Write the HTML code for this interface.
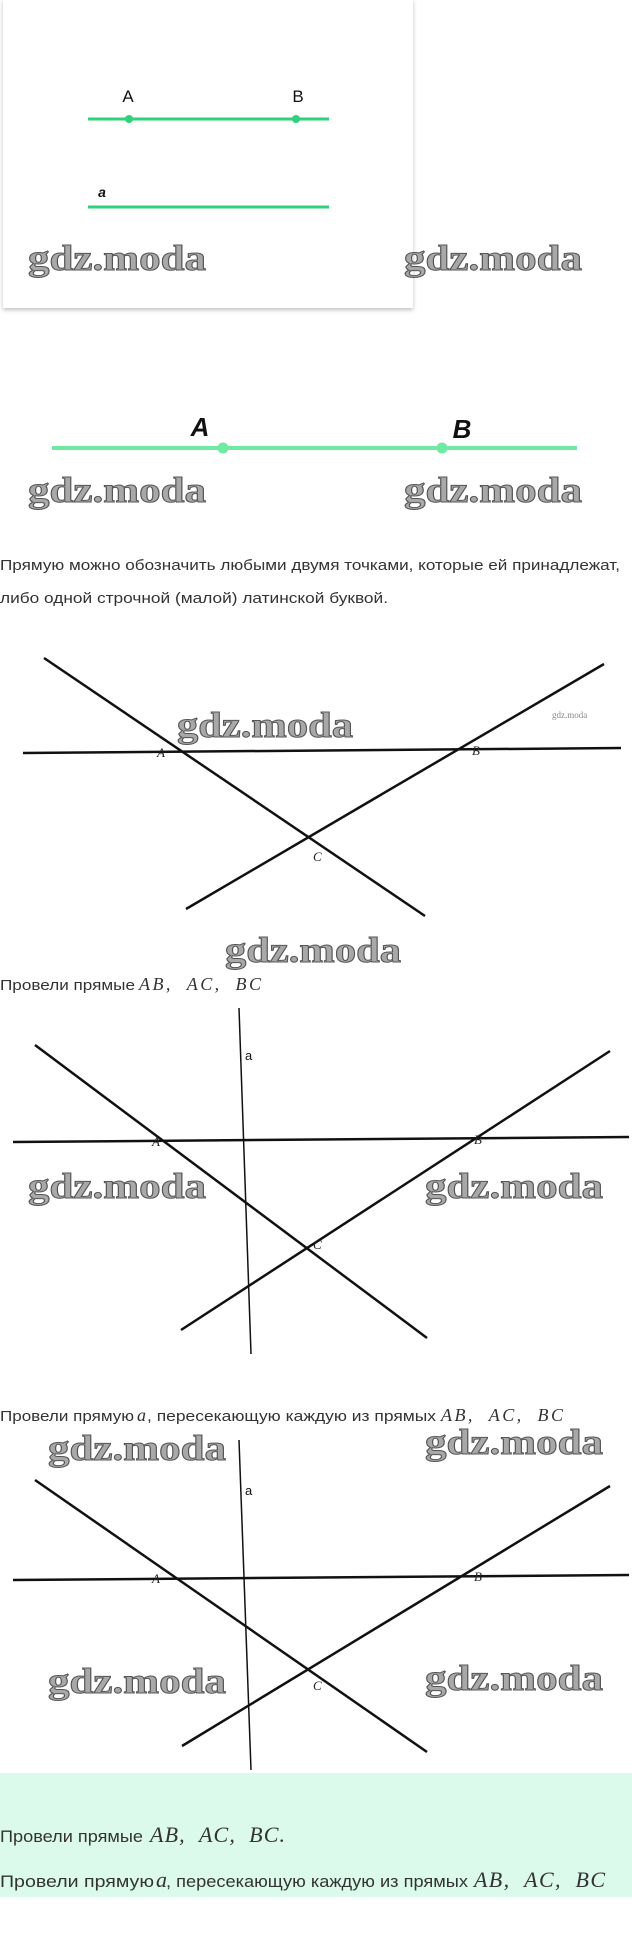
<!DOCTYPE html>
<html><head><meta charset="utf-8"><style>
html,body{margin:0;padding:0;background:#fff;}
svg{display:block;}
.wm{font-family:"Liberation Serif",serif;font-weight:bold;font-size:36px;fill:#a8a8a8;stroke:#555;stroke-width:1;}
.t{font-family:"Liberation Sans",sans-serif;fill:#333;}
.m{font-family:"Liberation Serif",serif;font-style:italic;fill:#333;}
.lb{font-family:"Liberation Serif",serif;font-style:italic;font-size:13px;fill:#222;}
</style></head><body>
<svg width="632" height="1937" viewBox="0 0 632 1937" xmlns="http://www.w3.org/2000/svg">
<defs><filter id="sh" x="-5%" y="-5%" width="110%" height="110%"><feDropShadow dx="0" dy="2" stdDeviation="2" flood-color="#000" flood-opacity="0.25"/></filter></defs>
<rect x="3" y="0" width="410" height="308" fill="#fff" filter="url(#sh)"/>
<line x1="88" y1="119" x2="329" y2="119" stroke="#2ed27a" stroke-width="3"/>
<circle cx="129" cy="119" r="4" fill="#2ed27a"/><circle cx="296" cy="119" r="4" fill="#2ed27a"/>
<text x="128" y="102" font-family="Liberation Sans,sans-serif" font-size="17" text-anchor="middle" fill="#111">A</text>
<text x="298" y="102" font-family="Liberation Sans,sans-serif" font-size="17" text-anchor="middle" fill="#111">B</text>
<line x1="88" y1="207" x2="329" y2="207" stroke="#2ed27a" stroke-width="3"/>
<text x="102" y="197" font-family="Liberation Sans,sans-serif" font-style="italic" font-weight="bold" font-size="14" text-anchor="middle" fill="#111">a</text>
<text class="wm" x="28" y="270" textLength="178" lengthAdjust="spacingAndGlyphs">gdz.moda</text>
<text class="wm" x="404" y="270" textLength="178" lengthAdjust="spacingAndGlyphs">gdz.moda</text>
<line x1="52" y1="448" x2="577" y2="448" stroke="#6eeaa2" stroke-width="4"/>
<circle cx="223" cy="448" r="5.5" fill="#6eeaa2"/><circle cx="442" cy="448" r="5.5" fill="#6eeaa2"/>
<text x="200" y="436" font-family="Liberation Sans,sans-serif" font-style="italic" font-weight="bold" font-size="26" text-anchor="middle" fill="#111">A</text>
<text x="462" y="438" font-family="Liberation Sans,sans-serif" font-style="italic" font-weight="bold" font-size="26" text-anchor="middle" fill="#111">B</text>
<text class="wm" x="28" y="502" textLength="178" lengthAdjust="spacingAndGlyphs">gdz.moda</text>
<text class="wm" x="404" y="502" textLength="178" lengthAdjust="spacingAndGlyphs">gdz.moda</text>
<text class="t" x="0" y="570" font-size="14.5" textLength="620" lengthAdjust="spacingAndGlyphs">Прямую можно обозначить любыми двумя точками, которые ей принадлежат,</text>
<text class="t" x="0" y="603" font-size="14.5" textLength="388" lengthAdjust="spacingAndGlyphs">либо одной строчной (малой) латинской буквой.</text>
<g stroke="#111" stroke-width="2.5">
<line x1="44" y1="658" x2="425" y2="916"/>
<line x1="186" y1="909" x2="604" y2="664"/>
<line x1="23" y1="753" x2="621" y2="748"/>
</g>
<text class="lb" x="157" y="757">A</text><text class="lb" x="472" y="755">B</text><text class="lb" x="313" y="861">C</text>
<text class="wm" x="177" y="737" textLength="176" lengthAdjust="spacingAndGlyphs">gdz.moda</text>
<text x="552" y="718" font-family="Liberation Serif,serif" font-size="9" fill="#888">gdz.moda</text>
<text class="wm" x="225" y="962" textLength="176" lengthAdjust="spacingAndGlyphs">gdz.moda</text>
<text class="t" x="0" y="990" font-size="14.5" textLength="135" lengthAdjust="spacingAndGlyphs">Провели прямые</text>
<text class="m" x="139" y="990" font-size="18" fill="#555" textLength="122" lengthAdjust="spacing">AB,&#160;&#160;AC,&#160;&#160;BC</text>
<g stroke="#111" stroke-width="2.5">
<line x1="35" y1="1045" x2="427" y2="1338"/>
<line x1="181" y1="1330" x2="610" y2="1051"/>
<line x1="13" y1="1142" x2="629" y2="1137"/>
</g>
<line x1="239" y1="1008" x2="251" y2="1354" stroke="#111" stroke-width="1.5"/>
<text x="245" y="1060" font-family="Liberation Sans,sans-serif" font-size="13" fill="#111">a</text>
<text class="lb" x="152" y="1146">A</text><text class="lb" x="474" y="1144">B</text><text class="lb" x="313" y="1249">C</text>
<text class="wm" x="28" y="1198" textLength="178" lengthAdjust="spacingAndGlyphs">gdz.moda</text>
<text class="wm" x="425" y="1198" textLength="178" lengthAdjust="spacingAndGlyphs">gdz.moda</text>
<text class="t" x="0" y="1421" font-size="14.5" textLength="134" lengthAdjust="spacingAndGlyphs">Провели прямую</text>
<text class="m" x="137" y="1421" font-size="18" fill="#555">a</text>
<text class="t" x="147" y="1421" font-size="14.5" textLength="289" lengthAdjust="spacingAndGlyphs">, пересекающую каждую из прямых</text>
<text class="m" x="441" y="1421" font-size="18" fill="#555" textLength="122" lengthAdjust="spacing">AB,&#160;&#160;AC,&#160;&#160;BC</text>
<text class="wm" x="48" y="1460" textLength="178" lengthAdjust="spacingAndGlyphs">gdz.moda</text>
<text class="wm" x="425" y="1454" textLength="178" lengthAdjust="spacingAndGlyphs">gdz.moda</text>
<g stroke="#111" stroke-width="2.5">
<line x1="35" y1="1480" x2="427" y2="1752"/>
<line x1="182" y1="1746" x2="610" y2="1486"/>
<line x1="13" y1="1580" x2="629" y2="1575"/>
</g>
<line x1="239" y1="1440" x2="251" y2="1770" stroke="#111" stroke-width="1.5"/>
<text x="245" y="1495" font-family="Liberation Sans,sans-serif" font-size="13" fill="#111">a</text>
<text class="lb" x="152" y="1583">A</text><text class="lb" x="474" y="1581">B</text><text class="lb" x="313" y="1690">C</text>
<text class="wm" x="48" y="1693" textLength="178" lengthAdjust="spacingAndGlyphs">gdz.moda</text>
<text class="wm" x="425" y="1690" textLength="178" lengthAdjust="spacingAndGlyphs">gdz.moda</text>
<rect x="0" y="1773" width="632" height="124" fill="#dbfaec"/>
<text class="t" x="0" y="1842" font-size="16.5" textLength="143" lengthAdjust="spacingAndGlyphs">Провели прямые</text>
<text class="m" x="150" y="1842" font-size="22" textLength="135" lengthAdjust="spacing">AB,&#160;&#160;AC,&#160;&#160;BC.</text>
<text class="t" x="0" y="1887" font-size="16.5" textLength="154" lengthAdjust="spacingAndGlyphs">Провели прямую</text>
<text class="m" x="156" y="1887" font-size="22">a</text>
<text class="t" x="166" y="1887" font-size="16.5" textLength="302" lengthAdjust="spacingAndGlyphs">, пересекающую каждую из прямых</text>
<text class="m" x="474" y="1887" font-size="22" textLength="131" lengthAdjust="spacing">AB,&#160;&#160;AC,&#160;&#160;BC</text>
</svg>
</body></html>
